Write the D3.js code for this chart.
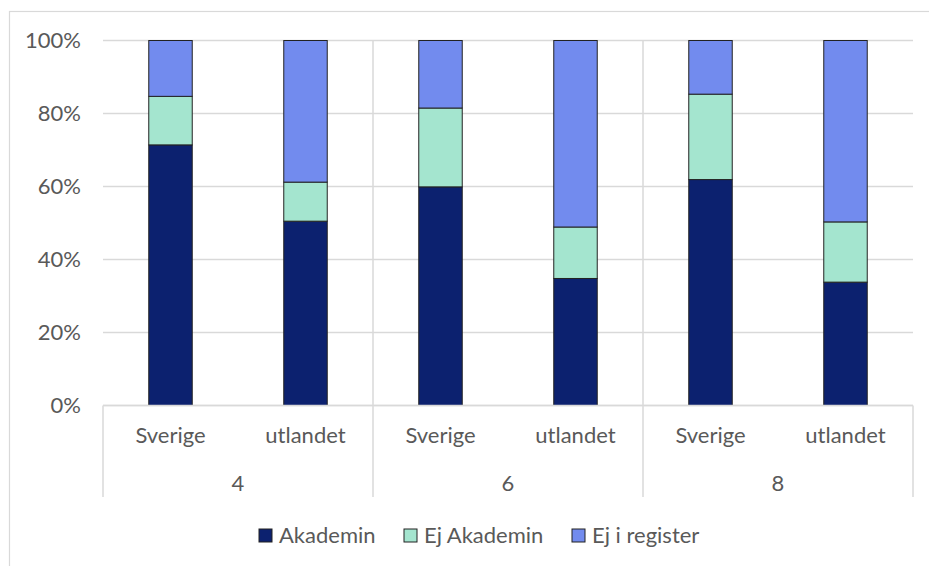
<!DOCTYPE html>
<html>
<head>
<meta charset="utf-8">
<script src="https://cdn.jsdelivr.net/npm/d3@7"></script>
<style>
  html, body { margin: 0; padding: 0; background: #fff; }
  svg { display: block; font-family: "Lato", "Noto Sans", sans-serif; }
</style>
</head>
<body>
<svg id="mainsvg" width="929" height="566"></svg>
<script>
// data (percent of each bar)
const groups = ["4", "6", "8"];
const origins = ["Sverige", "utlandet"];
const seriesNames = ["Akademin", "Ej Akademin", "Ej i register"];
const akademin   = [71.4, 50.5, 59.9, 34.8, 61.9, 33.8];
const ejAkademin = [13.3, 10.7, 21.6, 14.1, 23.4, 16.5];
const ejRegister = [15.3, 38.8, 18.5, 51.1, 14.7, 49.7];
const yTicks = [0, 20, 40, 60, 80, 100];
const colors = ["#0c216f", "#a4e5cf", "#728bee"];

const rows = [];
groups.forEach((g, gi) => {
  origins.forEach((o, oi) => {
    const i = gi * origins.length + oi;
    rows.push({group: g, origin: o, "Akademin": akademin[i], "Ej Akademin": ejAkademin[i], "Ej i register": ejRegister[i]});
  });
});

const svg = d3.select("#mainsvg");
const textColor = "#595959";
const gridColor = "#d9d9d9";
const fontSize = "22px";

const plotLeft = 103, plotRight = 913, plotTop = 40.5, plotBottom = 405.5;
const axisBottom = 497;

// outer chart frame
svg.append("rect")
  .attr("x", 9.5).attr("y", 11.5)
  .attr("width", 940).attr("height", 580)
  .attr("fill", "none")
  .attr("stroke", gridColor)
  .attr("stroke-width", 1.2);

const y = d3.scaleLinear().domain([0, 100]).range([plotBottom, plotTop]);
const x0 = d3.scaleBand().domain(groups).range([plotLeft, plotRight]).padding(0);
const x1 = d3.scaleBand().domain(origins).range([0, x0.bandwidth()])
  .paddingInner(0.678).paddingOuter(0.339);

// horizontal gridlines
svg.append("g").selectAll("line")
  .data(yTicks)
  .join("line")
  .attr("x1", plotLeft).attr("x2", plotRight)
  .attr("y1", d => y(d)).attr("y2", d => y(d))
  .attr("stroke", gridColor)
  .attr("stroke-width", 1.5);

// y labels
svg.append("g").selectAll("text")
  .data(yTicks)
  .join("text")
  .attr("x", 81)
  .attr("y", d => y(d))
  .attr("dy", "0.36em")
  .attr("text-anchor", "end")
  .attr("fill", textColor)
  .style("font-size", fontSize)
  .text(d => d + "%");

// vertical separators between groups inside plot
svg.append("g").selectAll("line")
  .data(groups.slice(1))
  .join("line")
  .attr("x1", d => x0(d)).attr("x2", d => x0(d))
  .attr("y1", plotTop).attr("y2", plotBottom)
  .attr("stroke", gridColor)
  .attr("stroke-width", 1.5);

// category axis boundaries
const bounds = groups.map(g => x0(g)).concat([plotRight]);
svg.append("g").selectAll("line")
  .data(bounds)
  .join("line")
  .attr("x1", d => d).attr("x2", d => d)
  .attr("y1", plotBottom).attr("y2", axisBottom)
  .attr("stroke", gridColor)
  .attr("stroke-width", 1.5);

// stacked bars
const stack = d3.stack().keys(seriesNames);
const stacked = stack(rows);

svg.append("g").selectAll("g")
  .data(stacked)
  .join("g")
  .attr("fill", (d, i) => colors[i])
  .selectAll("rect")
  .data(d => d)
  .join("rect")
  .attr("x", d => x0(d.data.group) + x1(d.data.origin))
  .attr("y", d => y(d[1]))
  .attr("width", x1.bandwidth())
  .attr("height", d => y(d[0]) - y(d[1]))
  .attr("stroke", "#222")
  .attr("stroke-width", 1);

// x axis line
svg.append("line")
  .attr("x1", plotLeft).attr("x2", plotRight)
  .attr("y1", plotBottom).attr("y2", plotBottom)
  .attr("stroke", gridColor)
  .attr("stroke-width", 1.5);

// origin labels
svg.append("g").selectAll("text")
  .data(rows)
  .join("text")
  .attr("x", d => x0(d.group) + x1(d.origin) + x1.bandwidth() / 2)
  .attr("y", 443)
  .attr("text-anchor", "middle")
  .attr("fill", textColor)
  .style("font-size", fontSize)
  .text(d => d.origin);

// group labels
svg.append("g").selectAll("text")
  .data(groups)
  .join("text")
  .attr("x", d => x0(d) + x0.bandwidth() / 2)
  .attr("y", 491)
  .attr("text-anchor", "middle")
  .attr("fill", textColor)
  .style("font-size", fontSize)
  .text(d => d);

// legend
const legendX = [259, 404, 572];
const legend = svg.append("g").selectAll("g")
  .data(seriesNames)
  .join("g")
  .attr("transform", (d, i) => `translate(${legendX[i]},529)`);

legend.append("rect")
  .attr("width", 13).attr("height", 13)
  .attr("fill", (d, i) => colors[i])
  .attr("stroke", "#222")
  .attr("stroke-width", 1);

legend.append("text")
  .attr("x", 20)
  .attr("y", 6.5)
  .attr("dy", "0.36em")
  .attr("fill", textColor)
  .style("font-size", fontSize)
  .text(d => d);
</script>
</body>
</html>
